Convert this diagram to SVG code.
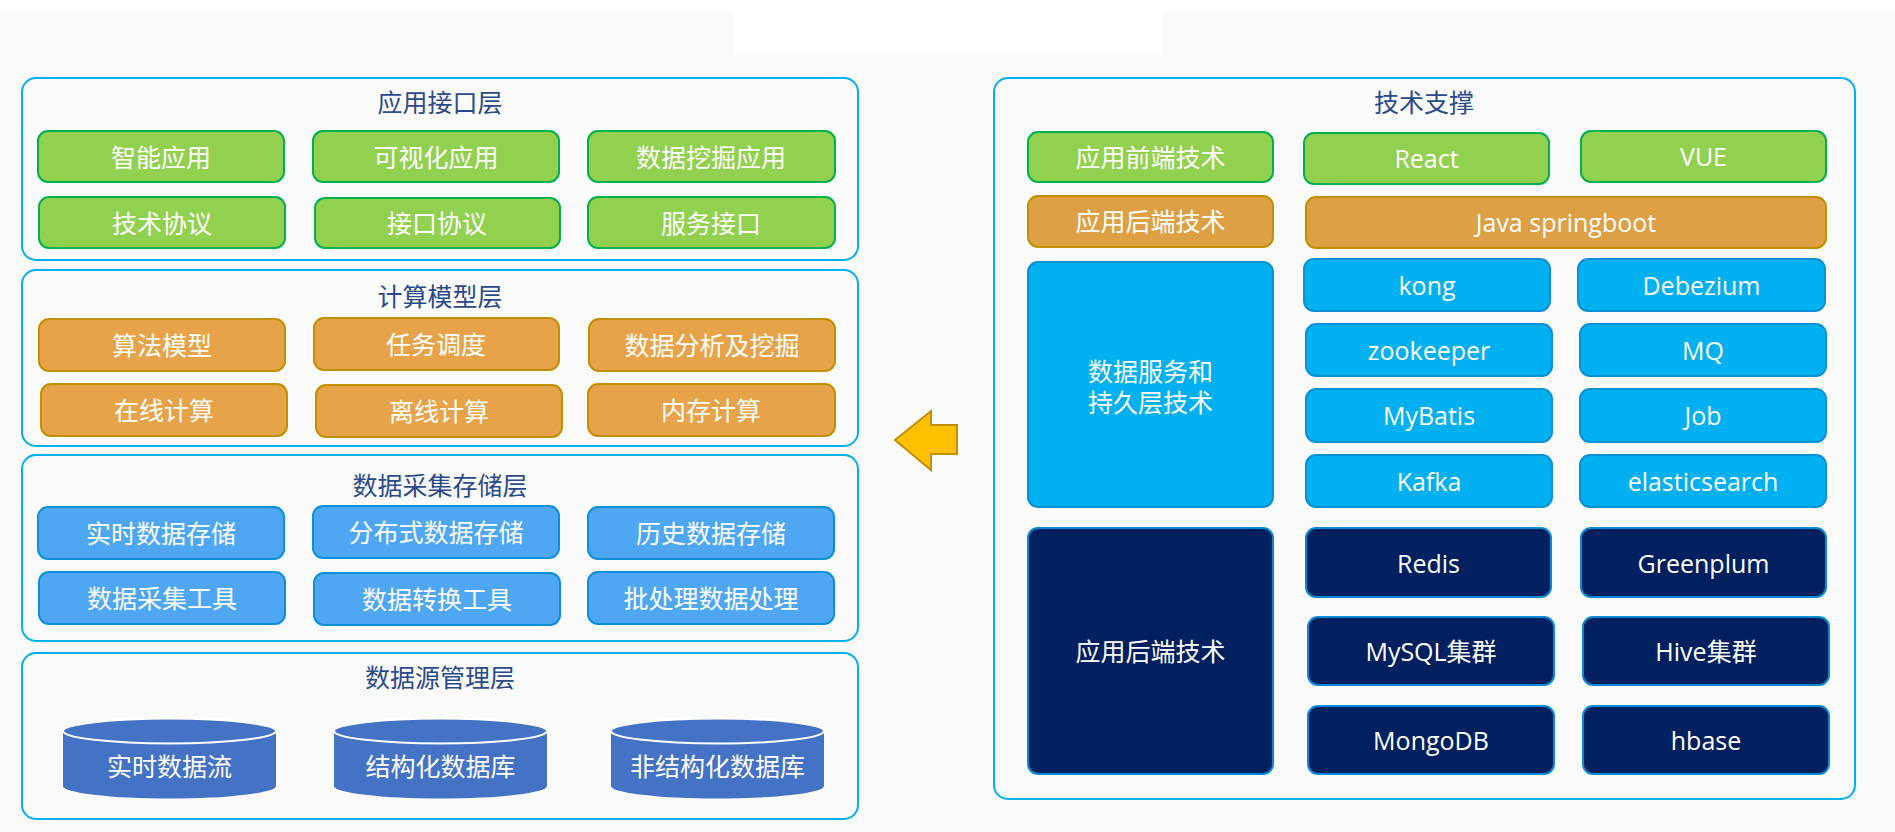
<svg xmlns="http://www.w3.org/2000/svg" width="1895" height="832" viewBox="0 0 1895 832">
<style>
text{font-family:"Open Sans","Noto Sans CJK SC",sans-serif;font-size:25px;text-anchor:middle;dominant-baseline:central;fill:#fff}
.ttl{fill:#2B4A8A}
.panel{fill:#fafafa;stroke:#00b0f0;stroke-width:2}
.g{fill:#92d050;stroke:#00b050;stroke-width:2}
.o{fill:#e7a349;stroke:#c09000;stroke-width:2}
.o2{fill:#dda044;stroke:#c09000;stroke-width:2}
.b{fill:#4fa7f4;stroke:#0b8fd6;stroke-width:2}
.c{fill:#00b0f0;stroke:#0a90d6;stroke-width:2}
.n{fill:#002060;stroke:#0a8ad2;stroke-width:2}
.cyl{fill:#4472c4}
.cylrim{fill:#4472c4;stroke:#ffffff;stroke-width:2}
</style>
<rect x="0" y="0" width="1895" height="832" fill="#ffffff"/>
<rect x="0" y="11" width="1895" height="821" fill="#fafafa"/>
<rect x="734" y="11" width="428" height="42" fill="#ffffff"/>

<g id="layer-app">
<rect class="panel" x="22" y="78" width="836" height="182" rx="14"/>
<text class="ttl" x="440" y="102">应用接口层</text>
<g id="n-zhineng"><rect class="g" x="38" y="131" width="246" height="51" rx="10"/><text x="161" y="157">智能应用</text></g>
<g id="n-keshihua"><rect class="g" x="313" y="131" width="246" height="51" rx="10"/><text x="436" y="157">可视化应用</text></g>
<g id="n-wajue"><rect class="g" x="588" y="131" width="247" height="51" rx="10"/><text x="711" y="157">数据挖掘应用</text></g>
<g id="n-jishuxieyi"><rect class="g" x="39" y="197" width="246" height="51" rx="10"/><text x="162" y="223">技术协议</text></g>
<g id="n-jiekouxieyi"><rect class="g" x="315" y="198" width="245" height="50" rx="10"/><text x="437" y="223">接口协议</text></g>
<g id="n-fuwujiekou"><rect class="g" x="588" y="197" width="247" height="51" rx="10"/><text x="711" y="223">服务接口</text></g>
</g>

<g id="layer-compute">
<rect class="panel" x="22" y="270" width="836" height="176" rx="14"/>
<text class="ttl" x="440" y="296">计算模型层</text>
<g id="n-suanfa"><rect class="o" x="39" y="319" width="246" height="52" rx="10"/><text x="162" y="345">算法模型</text></g>
<g id="n-renwu"><rect class="o" x="314" y="318" width="245" height="52" rx="10"/><text x="436" y="344">任务调度</text></g>
<g id="n-fenxi"><rect class="o" x="589" y="319" width="246" height="52" rx="10"/><text x="712" y="345">数据分析及挖掘</text></g>
<g id="n-zaixian"><rect class="o" x="41" y="384" width="246" height="52" rx="10"/><text x="164" y="410">在线计算</text></g>
<g id="n-lixian"><rect class="o" x="316" y="385" width="246" height="52" rx="10"/><text x="439" y="411">离线计算</text></g>
<g id="n-neicun"><rect class="o" x="588" y="384" width="247" height="52" rx="10"/><text x="711" y="410">内存计算</text></g>
</g>

<g id="layer-storage">
<rect class="panel" x="22" y="455" width="836" height="186" rx="14"/>
<text class="ttl" x="440" y="485">数据采集存储层</text>
<g id="n-shishicunchu"><rect class="b" x="38" y="507" width="246" height="52" rx="10"/><text x="161" y="533">实时数据存储</text></g>
<g id="n-fenbushi"><rect class="b" x="313" y="506" width="246" height="52" rx="10"/><text x="436" y="532">分布式数据存储</text></g>
<g id="n-lishi"><rect class="b" x="588" y="507" width="246" height="52" rx="10"/><text x="711" y="533">历史数据存储</text></g>
<g id="n-caiji"><rect class="b" x="39" y="572" width="246" height="52" rx="10"/><text x="162" y="598">数据采集工具</text></g>
<g id="n-zhuanhuan"><rect class="b" x="314" y="573" width="246" height="52" rx="10"/><text x="437" y="599">数据转换工具</text></g>
<g id="n-pichuli"><rect class="b" x="588" y="572" width="246" height="52" rx="10"/><text x="711" y="598">批处理数据处理</text></g>
</g>

<g id="layer-source">
<rect class="panel" x="22" y="653" width="836" height="166" rx="14"/>
<text class="ttl" x="440" y="677">数据源管理层</text>
<g id="n-shishiliu">
<path class="cyl" d="M63,731 L63,786 A106.5,12.5 0 0 0 276,786 L276,731 Z"/>
<ellipse class="cylrim" cx="169.5" cy="731" rx="106.5" ry="12.5"/>
<text x="169.5" y="766">实时数据流</text>
</g>
<g id="n-jiegouhua">
<path class="cyl" d="M334,731 L334,786 A106.5,12.5 0 0 0 547,786 L547,731 Z"/>
<ellipse class="cylrim" cx="440.5" cy="731" rx="106.5" ry="12.5"/>
<text x="440.5" y="766">结构化数据库</text>
</g>
<g id="n-feijiegouhua">
<path class="cyl" d="M611,731 L611,786 A106.5,12.5 0 0 0 824,786 L824,731 Z"/>
<ellipse class="cylrim" cx="717.5" cy="731" rx="106.5" ry="12.5"/>
<text x="717.5" y="766">非结构化数据库</text>
</g>
</g>

<g id="connectors">
<polygon points="895,440 931,411 931,425 957,425 957,454 931,454 931,470" fill="#ffc000" stroke="#bf9000" stroke-width="2" stroke-linejoin="miter"/>
</g>

<g id="tech-support">
<rect class="panel" x="994" y="78" width="861" height="721" rx="14" stroke-width="1.5"/>
<text class="ttl" x="1424" y="102">技术支撑</text>
<g id="n-qianduan"><rect class="g" x="1028" y="132" width="245" height="50" rx="10"/><text x="1150.5" y="157">应用前端技术</text></g>
<g id="n-react"><rect class="g" x="1304" y="133" width="245" height="51" rx="10"/><text x="1426.5" y="158">React</text></g>
<g id="n-vue"><rect class="g" x="1581" y="131" width="245" height="51" rx="10"/><text x="1703.5" y="156">VUE</text></g>
<g id="n-houduan"><rect class="o2" x="1028" y="196" width="245" height="51" rx="10"/><text x="1150.5" y="221">应用后端技术</text></g>
<g id="n-java"><rect class="o2" x="1306" y="197" width="520" height="51" rx="10"/><text x="1566" y="222">Java springboot</text></g>
<g id="n-shujufuwu"><rect class="c" x="1028" y="262" width="245" height="245" rx="10"/><text x="1150.5" y="371">数据服务和</text><text x="1150.5" y="402">持久层技术</text></g>
<g id="n-kong"><rect class="c" x="1304" y="259" width="246" height="52" rx="10"/><text x="1427" y="285">kong</text></g>
<g id="n-debezium"><rect class="c" x="1578" y="259" width="247" height="52" rx="10"/><text x="1701.5" y="285">Debezium</text></g>
<g id="n-zookeeper"><rect class="c" x="1306" y="324" width="246" height="52" rx="10"/><text x="1429" y="350">zookeeper</text></g>
<g id="n-mq"><rect class="c" x="1580" y="324" width="246" height="52" rx="10"/><text x="1703" y="350">MQ</text></g>
<g id="n-mybatis"><rect class="c" x="1306" y="389" width="246" height="53" rx="10"/><text x="1429" y="415">MyBatis</text></g>
<g id="n-job"><rect class="c" x="1580" y="389" width="246" height="53" rx="10"/><text x="1703" y="415">Job</text></g>
<g id="n-kafka"><rect class="c" x="1306" y="455" width="246" height="52" rx="10"/><text x="1429" y="481">Kafka</text></g>
<g id="n-es"><rect class="c" x="1580" y="455" width="246" height="52" rx="10"/><text x="1703" y="481">elasticsearch</text></g>
<g id="n-houduan2"><rect class="n" x="1028" y="528" width="245" height="246" rx="10"/><text x="1150.5" y="651">应用后端技术</text></g>
<g id="n-redis"><rect class="n" x="1306" y="528" width="245" height="69" rx="10"/><text x="1428.5" y="563">Redis</text></g>
<g id="n-greenplum"><rect class="n" x="1581" y="528" width="245" height="69" rx="10"/><text x="1703.5" y="563">Greenplum</text></g>
<g id="n-mysql"><rect class="n" x="1308" y="617" width="246" height="68" rx="10"/><text x="1431" y="651">MySQL集群</text></g>
<g id="n-hive"><rect class="n" x="1583" y="617" width="246" height="68" rx="10"/><text x="1706" y="651">Hive集群</text></g>
<g id="n-mongodb"><rect class="n" x="1308" y="706" width="246" height="68" rx="10"/><text x="1431" y="740">MongoDB</text></g>
<g id="n-hbase"><rect class="n" x="1583" y="706" width="246" height="68" rx="10"/><text x="1706" y="740">hbase</text></g>
</g>
</svg>
